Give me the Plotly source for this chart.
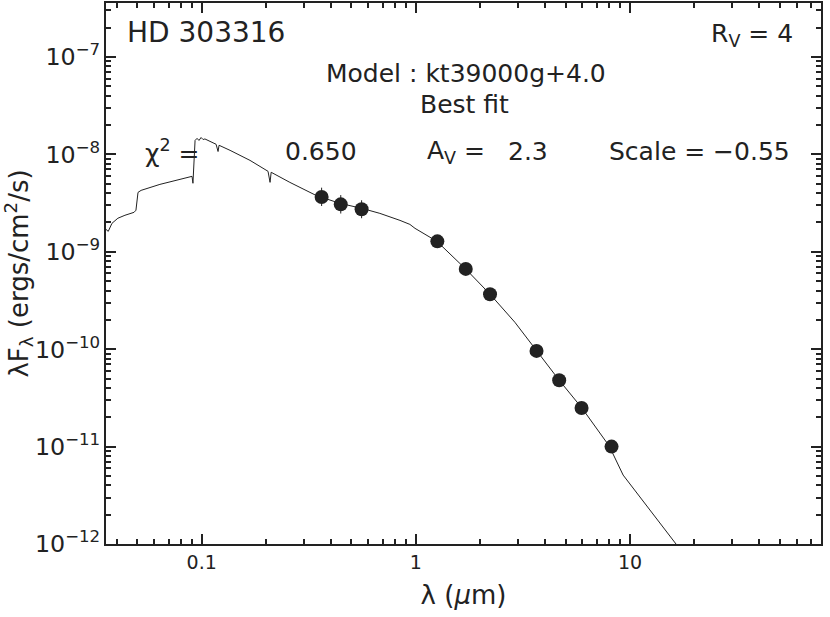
import plotly.graph_objects as go

# photometry (wavelength in micron, lambda*F_lambda in erg/cm2/s)
phot_wave = [0.363, 0.446, 0.558, 1.26, 1.71, 2.22, 3.66, 4.67, 5.94, 8.2]
phot_flux = [3.65e-9, 3.07e-9, 2.73e-9, 1.28e-9, 6.67e-10, 3.66e-10, 9.6e-11, 4.8e-11, 2.49e-11, 1.0e-11]
phot_err_hi = [0.9e-9, 0.75e-9, 0.65e-9, 0, 0, 0, 0, 0, 0, 0]
phot_err_lo = [0.7e-9, 0.6e-9, 0.52e-9, 0, 0, 0, 0, 0, 0, 0]

# best-fit model SED (kt39000g+4.0)
model_wave = [0.0357, 0.0366, 0.0381, 0.0406, 0.0438, 0.0483, 0.0493, 0.0504, 0.0521, 0.0574,
              0.0638, 0.0711, 0.0792, 0.0901, 0.0910, 0.0931, 0.0951, 0.0971, 0.0993, 0.1015,
              0.1035, 0.1094, 0.1167, 0.1192, 0.1205, 0.1356, 0.168, 0.204, 0.2085, 0.211,
              0.258, 0.342, 0.442, 0.560, 0.679, 0.843, 0.938, 0.991, 1.104, 1.254,
              1.713, 2.22, 2.90, 3.68, 4.67, 5.97, 7.81, 8.25, 9.29, 16.4, 21.2]
model_flux = [1.70e-9, 1.62e-9, 1.96e-9, 2.21e-9, 2.37e-9, 2.54e-9, 2.67e-9, 4.07e-9, 4.27e-9, 4.59e-9,
              4.92e-9, 5.22e-9, 5.54e-9, 5.95e-9, 5.05e-9, 1.39e-8, 1.46e-8, 1.39e-8, 1.49e-8, 1.42e-8,
              1.44e-8, 1.36e-8, 1.27e-8, 1.07e-8, 1.24e-8, 1.10e-8, 8.68e-9, 6.70e-9, 5.16e-9, 6.55e-9,
              5.16e-9, 3.79e-9, 3.14e-9, 2.79e-9, 2.48e-9, 2.10e-9, 1.91e-9, 1.74e-9, 1.51e-9, 1.28e-9,
              6.62e-10, 3.67e-10, 1.89e-10, 9.5e-11, 4.8e-11, 2.48e-11, 1.09e-11, 8.8e-12, 5.1e-12, 1.0e-12, 4.7e-13]

star = "HD 303316"
model_name = "kt39000g+4.0"
chi2 = "0.650"
av = "2.3"
rv = "4"
scale = "\u22120.55"

ink = "#222222"
font = "DejaVu Sans"

fig = go.Figure()
fig.add_trace(go.Scatter(x=model_wave, y=model_flux, mode="lines",
                         line=dict(color=ink, width=1), showlegend=False))
fig.add_trace(go.Scatter(x=phot_wave, y=phot_flux, mode="markers",
                         marker=dict(size=14, color=ink),
                         error_y=dict(type="data", array=phot_err_hi, arrayminus=phot_err_lo,
                                      color=ink, thickness=1, width=0),
                         showlegend=False))

axis = dict(type="log", showline=True, linewidth=2, linecolor=ink, mirror="ticks",
            ticks="inside", ticklen=10, tickwidth=1.5, tickcolor=ink, showgrid=False,
            zeroline=False, dtick=1, automargin=False,
            minor=dict(ticks="inside", ticklen=5, tickwidth=1.5, tickcolor=ink, dtick="D1", showgrid=False),
            tickfont=dict(family=font, size=19, color=ink))

fig.update_xaxes(axis, range=[-1.447, 1.892],
                 title=dict(text="\u03bb (<i>\u03bc</i>m)", font=dict(family=font, size=26, color=ink), standoff=14))
fig.update_yaxes(axis, range=[-12, -6.446], exponentformat="power",
                 title=dict(text="\u03bbF<sub>\u03bb</sub> (ergs/cm<sup>2</sup>/s)",
                            font=dict(family=font, size=26, color=ink), standoff=2))


def label(x, y, text, anchor="left", size=25):
    fig.add_annotation(x=x, y=y, xref="paper", yref="paper", text=text, showarrow=False,
                       xanchor=anchor, yanchor="middle", font=dict(family=font, size=size, color=ink))


label(0.0266, 0.946, star, size=28)
label(0.9636, 0.941, "R<sub>V</sub> = " + rv, anchor="right")
label(0.5035, 0.8688, "Model : " + model_name, anchor="center")
label(0.5007, 0.8133, "Best fit", anchor="center")
label(0.0517, 0.7246, "\u03c7<sup>2</sup> =")
label(0.2476, 0.7246, chi2)
label(0.446, 0.7246, "A<sub>V</sub> =")
label(0.5594, 0.7246, av)
label(0.9594, 0.7246, "Scale = " + scale, anchor="right")

fig.update_layout(width=830, height=617, margin=dict(l=106, r=9, t=3, b=73),
                  plot_bgcolor="#FFFFFF", paper_bgcolor="#FFFFFF")

# the page's default body margin would shift the figure by 8px
fig.write_html("out.html", config={"displayModeBar": False},
               post_script="document.body.style.margin = '0px';")
